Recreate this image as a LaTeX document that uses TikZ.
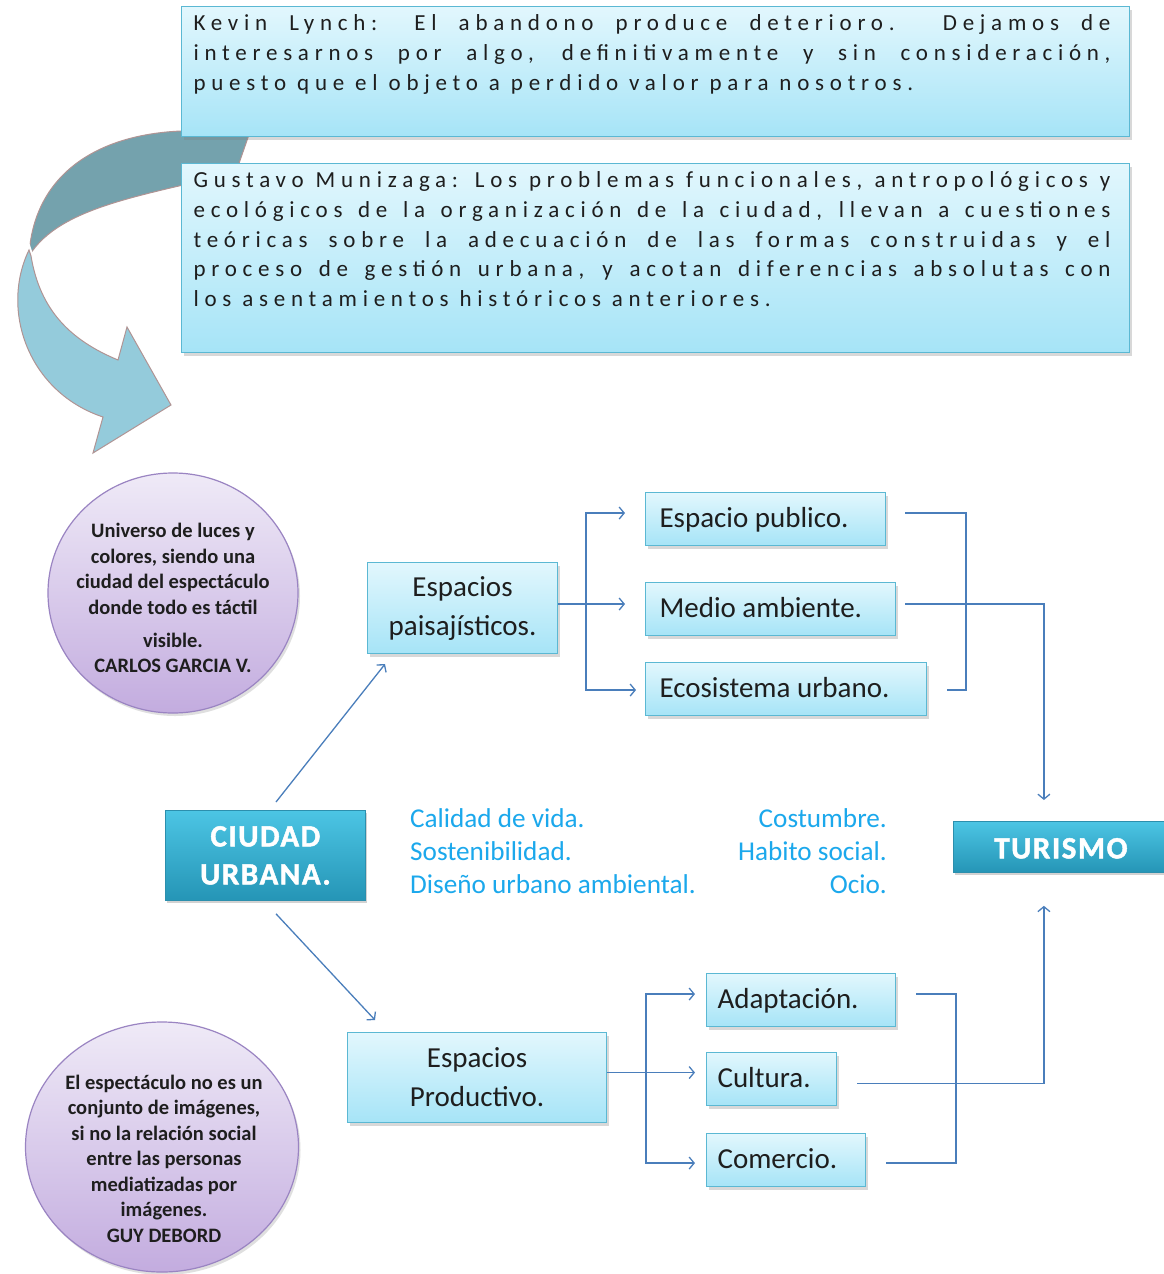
\documentclass[tikz,border=0pt]{standalone}
\usepackage{fontspec}
\setmainfont{Carlito}
\newfontfamily\spacedfont{Carlito}[LetterSpace=25]
\newfontfamily\wordartfont{Carlito}[LetterSpace=5, BoldFeatures={FakeBold=1.5}]
\usetikzlibrary{arrows.meta,shadows,calc,shapes.geometric}
\definecolor{connc}{HTML}{4A7EBB}
\definecolor{boxtop}{HTML}{E2F7FD}
\definecolor{boxbot}{HTML}{A6E4F7}
\definecolor{boxline}{HTML}{5BB8D3}
\definecolor{tealtop}{HTML}{4CC5E4}
\definecolor{tealbot}{HTML}{2595B6}
\definecolor{tealline}{HTML}{2C8FAD}
\definecolor{lavtop}{HTML}{EFEAF7}
\definecolor{lavbot}{HTML}{C3ACDF}
\definecolor{lavline}{HTML}{9A84C2}
\definecolor{bluetext}{HTML}{1BA8EC}
\definecolor{ribdark}{HTML}{74A2AD}
\definecolor{riblight}{HTML}{94CBDB}
\definecolor{ribline}{HTML}{B09494}
\definecolor{txt}{HTML}{1E1E1E}
\begin{document}
\begin{tikzpicture}[x=1pt,y=-1pt,
  conn/.style={draw=connc, line width=1.3pt},
  arr/.style={-{Straight Barb[length=5pt,width=12pt,line width=1.3pt]}},
  lbox/.style={rectangle, draw=boxline, line width=1.1pt, top color=boxtop, bottom color=boxbot,
    drop shadow={opacity=0.3, shadow xshift=2pt, shadow yshift=-3pt}, inner sep=0pt, text=txt,
    font=\fontsize{29}{39}\selectfont, anchor=north west},
  lone/.style={lbox, inner xsep=14pt, text height=24pt, text depth=7pt},
  bigbox/.style={rectangle, draw=boxline, line width=1.1pt, top color=boxtop, bottom color=boxbot,
    drop shadow={opacity=0.3, shadow xshift=2pt, shadow yshift=-3pt}, inner xsep=12pt, inner ysep=0pt,
    text=txt, anchor=north west},
  tbox/.style={rectangle, draw=tealline, line width=0.8pt, top color=tealtop, bottom color=tealbot,
    drop shadow={opacity=0.35, shadow xshift=2pt, shadow yshift=-3pt}, text=white,
    inner sep=0pt, anchor=north west, font=\wordartfont\bfseries\fontsize{31}{38}\selectfont},
  circ/.style={ellipse, draw=lavline, line width=1.2pt, top color=lavtop, bottom color=lavbot,
    drop shadow={opacity=0.25, shadow xshift=2pt, shadow yshift=-3pt}, inner sep=0pt},
  ctext/.style={align=center, text=txt, inner sep=0pt, font=\bfseries\fontsize{20.5}{25.5}\selectfont},
  btxt/.style={text=bluetext, inner sep=0pt, font=\fontsize{27.2}{33}\selectfont}
]
\fill[white] (0,0) rectangle (1164,1274);
\useasboundingbox (0,0) rectangle (1164,1274);

% curved ribbon arrow
\path[fill=ribdark, draw=ribline, line width=1pt, preaction={draw=white, line width=5pt}]
  (252,126) -- (236,172)
  .. controls (150,195) and (60,205) .. (29,256)
  .. controls (33,180) and (90,135) .. (181,131) -- cycle;
\path[fill=riblight, draw=ribline, line width=1pt, preaction={draw=white, line width=5pt}]
  (29,250) .. controls (0,310) and (28,392) .. (103,417)
  -- (93,453) -- (171,405) -- (127,327) -- (118,360)
  .. controls (70,340) and (40,310) .. (31,256) -- cycle;

% top quote boxes
\node[bigbox, minimum width=948pt, minimum height=130pt] (kl) at (181,6)
 {\begin{minipage}[t][130pt][t]{924pt}\spacedfont\fontsize{23}{30}\selectfont\vspace*{8pt}\noindent
  \makebox[917pt][s]{Kevin Lynch: El abandono produce deterioro. Dejamos de}\\
  \makebox[917pt][s]{interesarnos por algo, definitivamente y sin consideración,}\\
  puesto que el objeto a perdido valor para nosotros.\end{minipage}};
\node[bigbox, minimum width=948pt, minimum height=189pt] (gm) at (181,163)
 {\begin{minipage}[t][189pt][t]{924pt}\spacedfont\fontsize{23}{29.8}\selectfont\vspace*{8pt}\noindent
  \makebox[917pt][s]{Gustavo Munizaga: Los problemas funcionales, antropológicos y}\\
  \makebox[917pt][s]{ecológicos de la organización de la ciudad, llevan a cuestiones}\\
  \makebox[917pt][s]{teóricas sobre la adecuación de las formas construidas y el}\\
  \makebox[917pt][s]{proceso de gestión urbana, y acotan diferencias absolutas con}\\
  los asentamientos históricos anteriores.\end{minipage}};

% circles
\node[circ, minimum width=250pt, minimum height=240pt] (c1) at (173,593) {};
\node[ctext] (c1t) at (173,598) {Universo de luces y\\colores, siendo una\\ciudad del espectáculo\\donde todo es táctil\\[7.5pt]visible.\\CARLOS GARCIA V.};
\node[circ, minimum width=273pt, minimum height=250pt] (c2) at (162,1147) {};
\node[ctext] (c2t) at (164,1158.5) {El espectáculo no es un\\conjunto de imágenes,\\si no la relación social\\entre las personas\\mediatizadas por\\imágenes.\\GUY DEBORD};

% main boxes
\node[tbox, align=center, minimum width=200pt, minimum height=90pt] (cu) at (165,810) {CIUDAD\\URBANA.};
\node[tbox, minimum width=215pt, minimum height=51pt, text height=24pt, text depth=1pt] (tu) at (953,821) {TURISMO};

\node[lbox, minimum width=190pt, minimum height=91pt, align=center] (ep) at (367,562) {Espacios\\paisajísticos.};
\node[lone, minimum width=240pt, minimum height=53pt] (pub) at (645,492) {\makebox[212pt][l]{Espacio publico.}};
\node[lone, minimum width=250pt, minimum height=53pt] (med) at (645,582) {\makebox[222pt][l]{Medio ambiente.}};
\node[lone, minimum width=281pt, minimum height=53pt] (eco) at (645,662) {\makebox[253pt][l]{Ecosistema urbano.}};

\node[lbox, minimum width=259pt, minimum height=90pt, align=center] (prod) at (347,1032) {Espacios\\Productivo.};
\node[lone, minimum width=189pt, minimum height=53pt, inner xsep=11pt] (ad) at (706,973) {\makebox[167pt][l]{Adaptación.}};
\node[lone, minimum width=130pt, minimum height=53pt, inner xsep=11pt] (cul) at (706,1052) {\makebox[108pt][l]{Cultura.}};
\node[lone, minimum width=159pt, minimum height=53pt, inner xsep=11pt] (com) at (706,1133) {\makebox[137pt][l]{Comercio.}};

% blue texts
\node[btxt, anchor=base west] (q1) at (410,827) {Calidad de vida.};
\node[btxt, anchor=base west] (q2) at (410,860) {Sostenibilidad.};
\node[btxt, anchor=base west] (q3) at (410,893) {Diseño urbano ambiental.};
\node[btxt, anchor=base east] (q4) at (887,827) {Costumbre.};
\node[btxt, anchor=base east] (q5) at (887,860) {Habito social.};
\node[btxt, anchor=base east] (q6) at (887,893) {Ocio.};

% connectors: diagonals
\draw[conn,arr] ($(cu.north west)+(111,-8)$) -- ($(ep.south west)+(18,10)$);
\draw[conn,arr] ($(cu.south west)+(111,13)$) -- ($(prod.north west)+(28,-12)$);

% top fork
\coordinate (e0) at ($(ep.east)+(0,-4)$);
\coordinate (f1) at ($(e0)+(28,0)$);
\coordinate (a1) at ($(med.west)+(-20,0)$);
\coordinate (a2) at ($(pub.west)+(-20,-6)$);
\coordinate (a3) at ($(eco.west)+(-9,1)$);
\draw[conn,arr] (e0) -- (e0 -| a1);
\draw[conn,arr] (f1) |- (a2);
\draw[conn,arr] (f1) |- (a3);

% top merge
\coordinate (r1) at ($(pub.east)+(19,-6)$);
\coordinate (r1v) at ($(pub.east)+(80,-6)$);
\coordinate (r3) at ($(eco.east)+(20,1)$);
\draw[conn] (r1) -- (r1v) |- (r3);
\coordinate (r2) at ($(med.east)+(9,-5)$);
\coordinate (tin) at ($(tu.north)+(-17,-21)$);
\draw[conn,arr] (r2) -| (tin);

% bottom fork
\coordinate (p0) at ($(prod.east)+(0,-5)$);
\coordinate (f2) at ($(p0)+(39,0)$);
\coordinate (b1) at ($(cul.west)+(-11,0)$);
\coordinate (b2) at ($(ad.west)+(-11,-6)$);
\coordinate (b3) at ($(com.west)+(-11,3)$);
\draw[conn,arr] (p0) -- (p0 -| b1);
\draw[conn,arr] (f2) |- (b2);
\draw[conn,arr] (f2) |- (b3);

% bottom merge
\coordinate (s1) at ($(ad.east)+(20,-6)$);
\coordinate (s1v) at ($(ad.east)+(60,-6)$);
\coordinate (s3) at ($(com.east)+(20,3)$);
\draw[conn] (s1) -- (s1v) |- (s3);
\coordinate (s2) at ($(cul.east)+(20,4.5)$);
\coordinate (tout) at ($(tu.south)+(-17,33)$);
\draw[conn,arr] (s2) -| (tout);
\end{tikzpicture}
\end{document}
